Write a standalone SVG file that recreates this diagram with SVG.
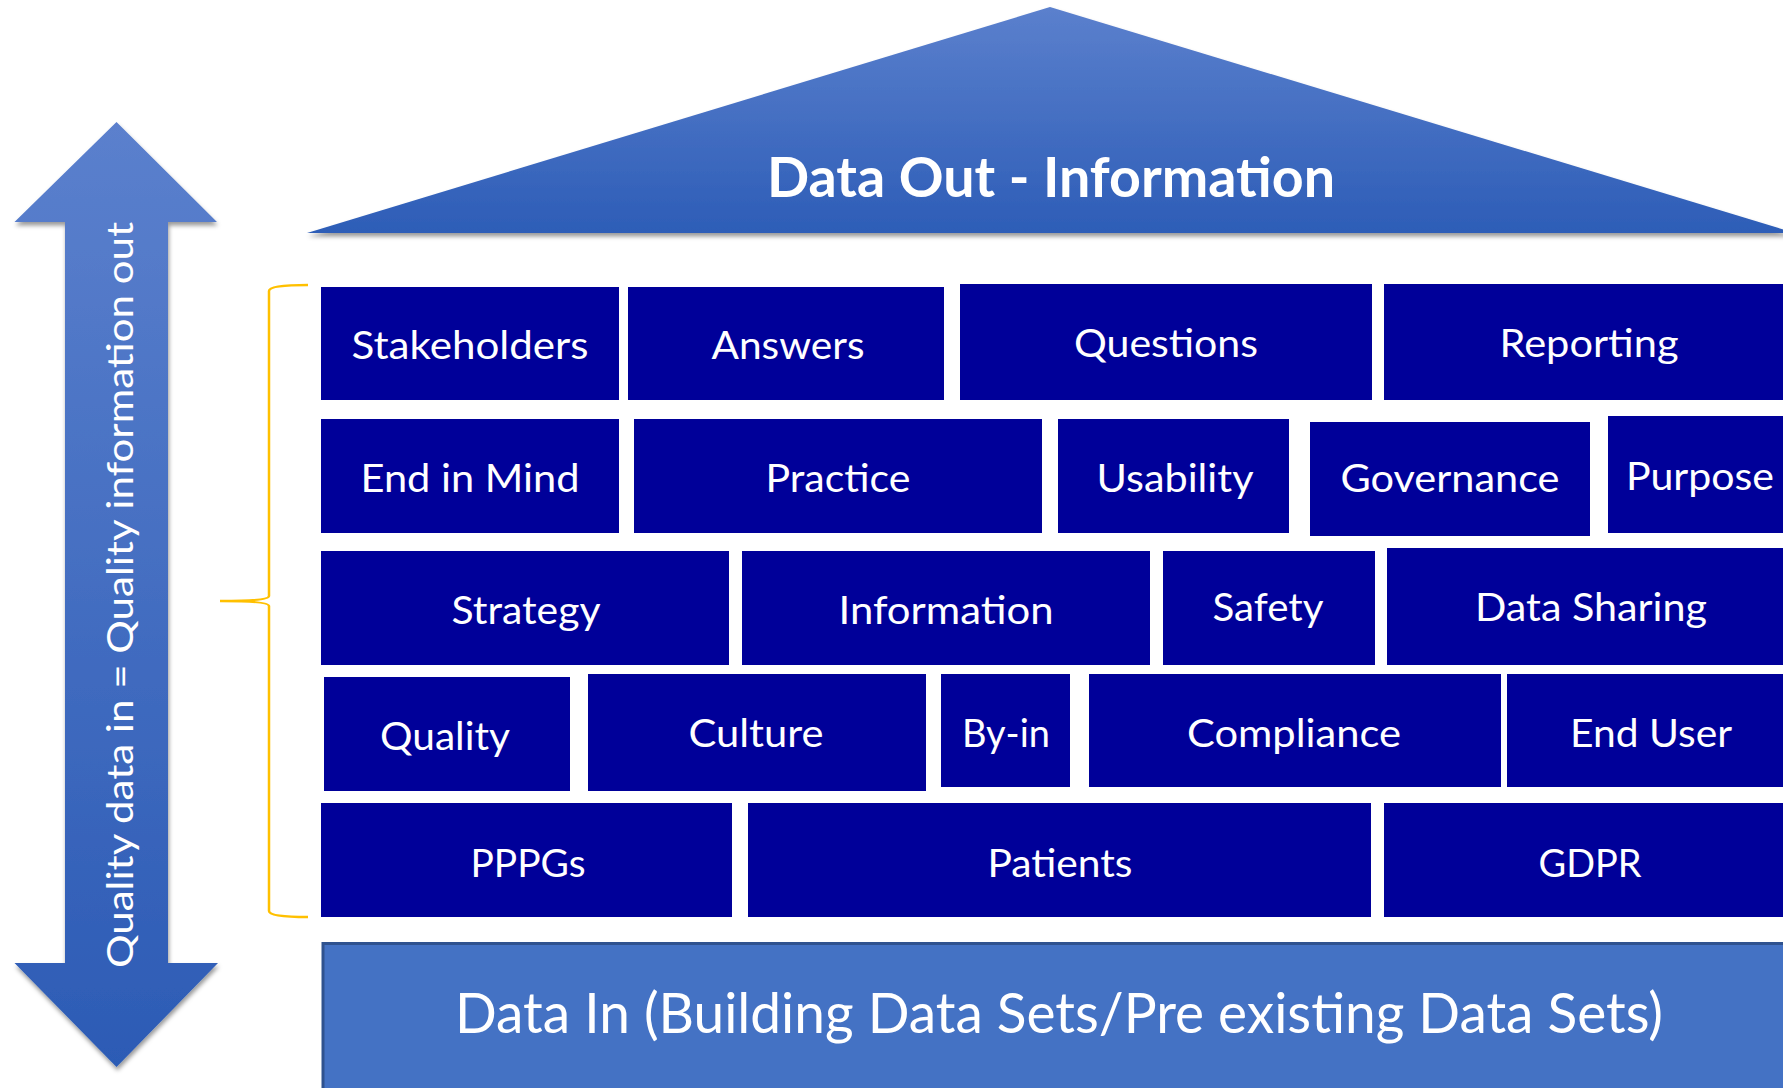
<svg xmlns="http://www.w3.org/2000/svg" width="1783" height="1088" viewBox="0 0 1783 1088">
<defs>
<linearGradient id="roofGrad" x1="0" y1="0" x2="0" y2="1">
<stop offset="0" stop-color="#5b80cd"/>
<stop offset="1" stop-color="#2d5db7"/>
</linearGradient>
<linearGradient id="arrowGrad" x1="0" y1="0" x2="0" y2="1">
<stop offset="0" stop-color="#5b80cd"/>
<stop offset="1" stop-color="#2c5bb5"/>
</linearGradient>
<filter id="shadow" x="-10%" y="-10%" width="120%" height="130%">
<feDropShadow dx="1" dy="3.5" stdDeviation="2" flood-color="#000" flood-opacity="0.4"/>
</filter>
<style>
.blk{fill:#000099;}
.lbl{font-family:Lato,"Liberation Sans",sans-serif;font-size:39px;fill:#ffffff;text-anchor:middle;}
.title{font-family:Lato,"Liberation Sans",sans-serif;font-size:56px;font-weight:bold;fill:#ffffff;text-anchor:middle;}
.base{font-family:Lato,"Liberation Sans",sans-serif;font-size:57px;fill:#ffffff;text-anchor:middle;}
.side{font-family:Lato,"Liberation Sans",sans-serif;font-size:37px;fill:#ffffff;}
</style>
</defs>
<rect width="1783" height="1088" fill="#ffffff"/>

<g id="roof">
<polygon points="307,233 1050,7 1795,233" fill="url(#roofGrad)" filter="url(#shadow)"/>
<text class="title" x="1051" y="197" textLength="568" lengthAdjust="spacingAndGlyphs">Data Out - Information</text>
</g>

<g id="side-arrow">
<polygon points="116.5,122 217,222 168,222 168,963 218,963 116.5,1067 14.5,963 65,963 65,222 14.5,222" fill="url(#arrowGrad)" filter="url(#shadow)"/>
<text class="side" transform="translate(133,968) rotate(-90)" x="0" y="0" textLength="746" lengthAdjust="spacingAndGlyphs">Quality data in = Quality information out</text>
</g>

<g id="connectors">
<path id="bracket" d="M308,285 Q269,285 269,291 L269,596 Q269,601 220,601 Q269,601 269,606 L269,911 Q269,917 308,917" fill="none" stroke="#FFC000" stroke-width="2.5"/>
</g>

<g id="n-stakeholders"><rect class="blk" x="321" y="287" width="298" height="113"/><text class="lbl" x="470" y="359" textLength="237" lengthAdjust="spacingAndGlyphs">Stakeholders</text></g>
<g id="n-answers"><rect class="blk" x="628" y="287" width="316" height="113"/><text class="lbl" x="788" y="359" textLength="153" lengthAdjust="spacingAndGlyphs">Answers</text></g>
<g id="n-questions"><rect class="blk" x="960" y="284" width="412" height="116"/><text class="lbl" x="1166" y="357" textLength="184" lengthAdjust="spacingAndGlyphs">Questions</text></g>
<g id="n-reporting"><rect class="blk" x="1384" y="284" width="410" height="116"/><text class="lbl" x="1589" y="357" textLength="179" lengthAdjust="spacingAndGlyphs">Reporting</text></g>

<g id="n-endinmind"><rect class="blk" x="321" y="419" width="298" height="114"/><text class="lbl" x="470" y="492" textLength="219" lengthAdjust="spacingAndGlyphs">End in Mind</text></g>
<g id="n-practice"><rect class="blk" x="634" y="419" width="408" height="114"/><text class="lbl" x="838" y="492" textLength="145" lengthAdjust="spacingAndGlyphs">Practice</text></g>
<g id="n-usability"><rect class="blk" x="1058" y="419" width="231" height="114"/><text class="lbl" x="1175" y="492" textLength="157" lengthAdjust="spacingAndGlyphs">Usability</text></g>
<g id="n-governance"><rect class="blk" x="1310" y="422" width="280" height="114"/><text class="lbl" x="1450" y="492" textLength="219" lengthAdjust="spacingAndGlyphs">Governance</text></g>
<g id="n-purpose"><rect class="blk" x="1608" y="416" width="180" height="117"/><text class="lbl" x="1700" y="490" textLength="148" lengthAdjust="spacingAndGlyphs">Purpose</text></g>

<g id="n-strategy"><rect class="blk" x="321" y="551" width="408" height="114"/><text class="lbl" x="526" y="624" textLength="149" lengthAdjust="spacingAndGlyphs">Strategy</text></g>
<g id="n-information"><rect class="blk" x="742" y="551" width="408" height="114"/><text class="lbl" x="946" y="624" textLength="215" lengthAdjust="spacingAndGlyphs">Information</text></g>
<g id="n-safety"><rect class="blk" x="1163" y="551" width="212" height="114"/><text class="lbl" x="1268" y="621" textLength="111" lengthAdjust="spacingAndGlyphs">Safety</text></g>
<g id="n-datasharing"><rect class="blk" x="1387" y="548" width="400" height="117"/><text class="lbl" x="1591" y="621" textLength="232" lengthAdjust="spacingAndGlyphs">Data Sharing</text></g>

<g id="n-quality"><rect class="blk" x="324" y="677" width="246" height="114"/><text class="lbl" x="445" y="750" textLength="130" lengthAdjust="spacingAndGlyphs">Quality</text></g>
<g id="n-culture"><rect class="blk" x="588" y="674" width="338" height="117"/><text class="lbl" x="756" y="747" textLength="135" lengthAdjust="spacingAndGlyphs">Culture</text></g>
<g id="n-byin"><rect class="blk" x="941" y="674" width="129" height="113"/><text class="lbl" x="1006" y="747" textLength="88" lengthAdjust="spacingAndGlyphs">By-in</text></g>
<g id="n-compliance"><rect class="blk" x="1089" y="674" width="412" height="113"/><text class="lbl" x="1294" y="747" textLength="214" lengthAdjust="spacingAndGlyphs">Compliance</text></g>
<g id="n-enduser"><rect class="blk" x="1507" y="674" width="280" height="113"/><text class="lbl" x="1651" y="747" textLength="162" lengthAdjust="spacingAndGlyphs">End User</text></g>

<g id="n-pppgs"><rect class="blk" x="321" y="803" width="411" height="114"/><text class="lbl" x="528" y="877" textLength="115" lengthAdjust="spacingAndGlyphs">PPPGs</text></g>
<g id="n-patients"><rect class="blk" x="748" y="803" width="623" height="114"/><text class="lbl" x="1060" y="877" textLength="145" lengthAdjust="spacingAndGlyphs">Patients</text></g>
<g id="n-gdpr"><rect class="blk" x="1384" y="803" width="403" height="114"/><text class="lbl" x="1590" y="877" textLength="103" lengthAdjust="spacingAndGlyphs">GDPR</text></g>

<g id="n-datain">
<rect x="323" y="943.5" width="1470" height="150" fill="#4472C4" stroke="#2F528F" stroke-width="3"/>
<text class="base" x="1059" y="1033" textLength="1208" lengthAdjust="spacingAndGlyphs">Data In (Building Data Sets/Pre existing Data Sets)</text>
</g>
</svg>
